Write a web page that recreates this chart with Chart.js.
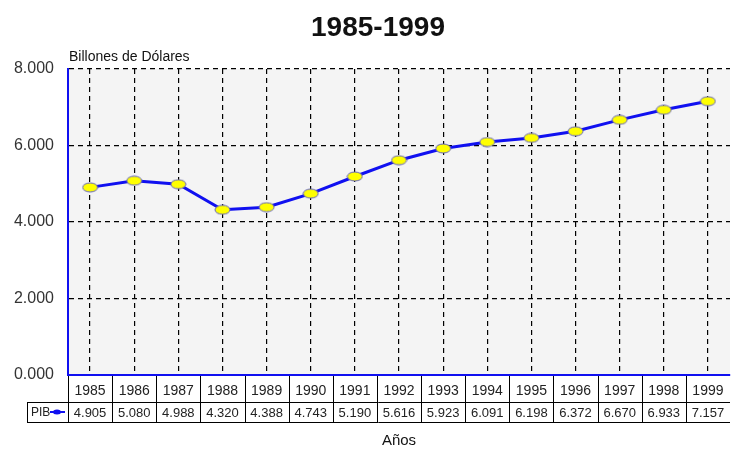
<!DOCTYPE html>
<html>
<head>
<meta charset="utf-8">
<script src="https://cdn.jsdelivr.net/npm/chart.js@4"></script>
<style>
  html, body { margin: 0; padding: 0; background: #fff; }
  #wrap { width: 737px; height: 450px; }
</style>
</head>
<body>
<div id="wrap"><canvas id="chart" width="737" height="450"></canvas></div>
<script>
// chart data
const years = ['1985', '1986', '1987', '1988', '1989', '1990', '1991', '1992',
               '1993', '1994', '1995', '1996', '1997', '1998', '1999'];
const pib = [4.905, 5.080, 4.988, 4.320, 4.388, 4.743, 5.190, 5.616,
             5.923, 6.091, 6.198, 6.372, 6.670, 6.933, 7.157];
const seriesName = 'PIB';
const titleText = '1985-1999';
const yAxisTitle = 'Billones de Dólares';
const xAxisTitle = 'Años';

const FONT = '"Liberation Sans", Arial, sans-serif';
const BLUE = '#1010f0';

// ellipse marker used as point style
function makeMarker() {
  const c = document.createElement('canvas');
  c.width = 17; c.height = 11;
  const g = c.getContext('2d');
  g.beginPath();
  g.ellipse(8.5, 5.5, 7.5, 4.5, 0, 0, Math.PI * 2);
  g.fillStyle = '#ffff00';
  g.fill();
  g.lineWidth = 1;
  g.strokeStyle = '#6060c0';
  g.stroke();
  return c;
}

// plot background + title texts + data table under the axis
const extras = {
  id: 'extras',
  beforeDraw(chart) {
    const { ctx, chartArea: a } = chart;
    ctx.save();
    ctx.fillStyle = '#f4f4f4';
    ctx.fillRect(a.left, a.top, a.right - a.left, a.bottom - a.top);
    ctx.restore();
  },
  afterDraw(chart) {
    const { ctx, chartArea: a } = chart;
    const x = chart.scales.x;
    const half = (x.getPixelForValue(1) - x.getPixelForValue(0)) / 2;
    ctx.save();
    ctx.fillStyle = '#111';

    // title
    ctx.font = 'bold 28px ' + FONT;
    ctx.textAlign = 'center';
    ctx.textBaseline = 'alphabetic';
    ctx.fillText(titleText, 378, 36);

    // y axis title
    ctx.font = '14px ' + FONT;
    ctx.textAlign = 'left';
    ctx.fillText(yAxisTitle, a.left + 1, 61);

    // table
    const row1 = a.bottom + 1, row2 = a.bottom + 27, row3 = a.bottom + 47;
    const tabLeft = 27;
    ctx.strokeStyle = '#000';
    ctx.lineWidth = 1;
    ctx.beginPath();
    ctx.moveTo(tabLeft, row2 + 0.5); ctx.lineTo(a.right, row2 + 0.5);
    ctx.moveTo(tabLeft, row3 + 0.5); ctx.lineTo(a.right, row3 + 0.5);
    ctx.moveTo(tabLeft + 0.5, row2); ctx.lineTo(tabLeft + 0.5, row3);
    for (let i = 0; i < years.length; i++) {
      const px = Math.round(x.getPixelForValue(i) - half) + 0.5;
      ctx.moveTo(px, row1); ctx.lineTo(px, row3);
    }
    ctx.stroke();

    ctx.fillStyle = '#222';
    ctx.textAlign = 'center';
    ctx.textBaseline = 'middle';
    years.forEach((yr, i) => {
      const px = x.getPixelForValue(i);
      ctx.font = '14px ' + FONT;
      ctx.fillText(yr, px, (row1 + row2) / 2 + 2);
      ctx.font = '13px ' + FONT;
      ctx.fillText(pib[i].toFixed(3), px, (row2 + row3) / 2 + 1);
    });

    // series key in table
    ctx.font = '12px ' + FONT;
    ctx.textAlign = 'left';
    ctx.fillText(seriesName, tabLeft + 4, (row2 + row3) / 2 + 1);
    const ky = (row2 + row3) / 2;
    ctx.strokeStyle = BLUE;
    ctx.lineWidth = 2;
    ctx.beginPath();
    ctx.moveTo(50, ky); ctx.lineTo(65, ky);
    ctx.stroke();
    ctx.fillStyle = BLUE;
    ctx.beginPath();
    ctx.ellipse(57, ky, 4, 2.5, 0, 0, Math.PI * 2);
    ctx.fill();

    // x axis title
    ctx.fillStyle = '#111';
    ctx.font = '15px ' + FONT;
    ctx.textAlign = 'center';
    ctx.fillText(xAxisTitle, (a.left + a.right) / 2, 441);
    ctx.restore();
  }
};

const ctx = document.getElementById('chart').getContext('2d');
new Chart(ctx, {
  type: 'line',
  data: {
    labels: years,
    datasets: [{
      label: seriesName,
      data: pib,
      borderColor: BLUE,
      borderWidth: 3,
      pointStyle: makeMarker(),
      tension: 0
    }]
  },
  options: {
    responsive: false,
    animation: false,
    layout: { padding: { top: 69, right: 0, bottom: 75, left: 0 } },
    plugins: {
      legend: { display: false },
      tooltip: { enabled: false }
    },
    scales: {
      x: {
        offset: true,
        ticks: { display: false },
        grid: {
          offset: false,
          color: '#000',
          drawTicks: false,
          lineWidth: 1.2
        },
        border: { color: BLUE, width: 2, dash: [5, 4] }
      },
      y: {
        min: 0,
        max: 8,
        afterFit(scale) { scale.width = 68; },
        ticks: {
          stepSize: 2,
          padding: 14,
          color: '#333',
          font: { family: FONT, size: 16 },
          callback: v => v.toFixed(3)
        },
        grid: { color: '#000', drawTicks: false, lineWidth: 1.2 },
        border: { color: BLUE, width: 2, dash: [5, 4] }
      }
    }
  },
  plugins: [extras]
});
</script>
</body>
</html>
